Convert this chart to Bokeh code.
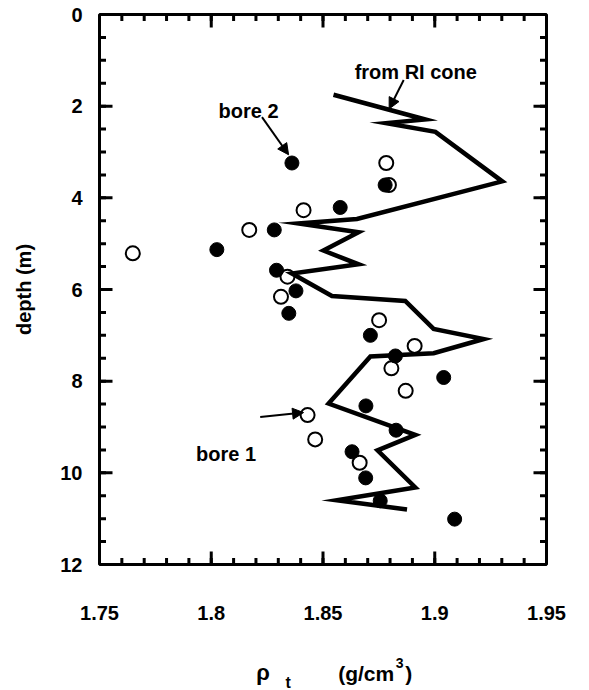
import math
from bokeh.plotting import figure
from bokeh.layouts import column
from bokeh.models import Range1d, FixedTicker, Label, Arrow, NormalHead
from bokeh.embed import file_html
from bokeh.resources import INLINE

# ---------------- data ----------------
bore1_density = [1.8783, 1.8795, 1.8413, 1.8170, 1.7649, 1.8341, 1.8312, 1.8751,
                 1.8910, 1.8806, 1.8870, 1.8431, 1.8465, 1.8664]
bore1_depth = [3.24, 3.72, 4.27, 4.70, 5.21, 5.72, 6.16, 6.67,
               7.23, 7.72, 8.21, 8.74, 9.27, 9.78]

bore2_density = [1.8361, 1.8778, 1.8577, 1.8282, 1.8025, 1.8292, 1.8379, 1.8347,
                 1.8712, 1.8824, 1.9040, 1.8692, 1.8827, 1.8630, 1.8691, 1.8756, 1.9089]
bore2_depth = [3.24, 3.72, 4.21, 4.70, 5.13, 5.58, 6.03, 6.52,
               7.00, 7.45, 7.92, 8.54, 9.07, 9.54, 10.11, 10.61, 11.01]

cone_density = [1.8547, 1.8958, 1.8783, 1.9003, 1.9302, 1.8652, 1.8390, 1.8659,
                1.8502, 1.8659, 1.8361, 1.8540, 1.8868, 1.8995, 1.9219, 1.8995,
                1.8712, 1.8525, 1.8913, 1.8744, 1.8913, 1.8562, 1.8876]
cone_depth = [1.75, 2.29, 2.37, 2.56, 3.64, 4.46, 4.56, 4.75,
              5.15, 5.45, 5.65, 6.14, 6.25, 6.86, 7.08, 7.39,
              7.46, 8.49, 9.17, 9.51, 10.32, 10.60, 10.80]

x_ticks = [1.75, 1.8, 1.85, 1.9, 1.95]
x_tick_labels = ["1.75", "1.8", "1.85", "1.9", "1.95"]
x_minor = [round(1.75 + 0.01 * i, 2) for i in range(21)]
y_ticks = [0, 2, 4, 6, 8, 10, 12]
y_minor = [0.5 * i for i in range(25)]

X0, X1 = 1.75, 1.95
Y_TOP, Y_BOT = 0, 12

FONT = "Liberation Sans"
WEIGHT = "bold"

p = figure(width=589, height=632, output_backend="svg", toolbar_location=None,
           x_range=Range1d(X0, X1), y_range=Range1d(Y_BOT, Y_TOP),
           min_border_left=99, min_border_right=43, min_border_top=14,
           min_border_bottom=68)
p.grid.visible = False
p.outline_line_color = "black"
p.outline_line_width = 3
p.background_fill_color = "white"
p.border_fill_color = "white"

for ax in (p.xaxis[0], p.yaxis[0]):
    ax.axis_line_color = None
    ax.major_tick_in = 0
    ax.major_tick_out = 0
    ax.minor_tick_in = 0
    ax.minor_tick_out = 0
    ax.major_tick_line_color = None
    ax.minor_tick_line_color = None
    ax.major_label_text_font = FONT
    ax.major_label_text_font_size = "20px"
    ax.major_label_text_font_style = WEIGHT
    ax.major_label_text_color = "black"
    ax.axis_label_text_font = FONT
    ax.axis_label_text_font_style = WEIGHT
    ax.axis_label_text_color = "black"

xa = p.xaxis[0]
xa.ticker = FixedTicker(ticks=x_ticks)
xa.major_label_overrides = {t: s for t, s in zip(x_ticks, x_tick_labels)}
xa.major_label_standoff = 41

ya = p.yaxis[0]
ya.ticker = FixedTicker(ticks=y_ticks)
ya.major_label_standoff = 17
ya.axis_label = "depth (m)"
ya.axis_label_text_font_size = "20px"
ya.axis_label_standoff = 22

# ---------------- inward tick marks on all four sides ----------------
# (dash markers centred on the frame edge; the half outside is clipped)
def ticks_x(vals, size):
    for yy in (Y_TOP, Y_BOT):
        p.scatter(vals, [yy] * len(vals), marker="dash", size=size,
                  angle=math.pi / 2, line_color="black", line_width=3)

def ticks_y(vals, size):
    for xx in (X0, X1):
        p.scatter([xx] * len(vals), vals, marker="dash", size=size,
                  line_color="black", line_width=3)

ticks_x(x_minor, 13)
ticks_x(x_ticks, 26)
ticks_y(y_minor, 13)
ticks_y(y_ticks, 26)

# ---------------- marks ----------------
p.scatter(bore1_density, bore1_depth, size=14, fill_color="white",
          line_color="black", line_width=2)
p.scatter(bore2_density, bore2_depth, size=14, fill_color="black",
          line_color="black", line_width=1)
p.line(cone_density, cone_depth, line_width=4.5, color="black", line_join="miter")

# ---------------- annotations ----------------
def lab(fig, x, y, text, size="20px", align="center"):
    fig.add_layout(Label(x=x, y=y, text=text, text_font=FONT, text_font_size=size,
                         text_font_style=WEIGHT, text_align=align,
                         text_baseline="alphabetic", text_color="black"))

lab(p, 1.8915, 1.25, "from RI cone")
lab(p, 1.8167, 2.10, "bore 2")
lab(p, 1.8066, 9.59, "bore 1")

for xs, ys, xe, ye in [(1.8861, 1.43, 1.8796, 2.06),
                       (1.8227, 2.24, 1.8346, 3.06),
                       (1.8219, 8.78, 1.8413, 8.685)]:
    p.add_layout(Arrow(x_start=xs, y_start=ys, x_end=xe, y_end=ye,
                       line_width=2, line_color="black",
                       end=NormalHead(size=11, fill_color="black",
                                      line_color="black", line_width=1)))

# ---------------- x-axis title strip (rho with subscript t, cm^3) ----------------
# shares the density axis of the main plot; its y is pixels from the strip top
q = figure(width=589, height=58, output_backend="svg", toolbar_location=None,
           x_range=p.x_range, y_range=Range1d(58, 0),
           x_axis_type=None, y_axis_type=None,
           min_border_left=99, min_border_right=43, min_border_top=0,
           min_border_bottom=0)
q.outline_line_color = None
q.grid.visible = False
q.background_fill_color = "white"
q.border_fill_color = "white"

lab(q, 1.8232, 40, "\u03c1", size="22px")
lab(q, 1.8344, 50, "t", size="16px")
lab(q, 1.8568, 41, "(g/cm", size="21px", align="left")
lab(q, 1.8826, 30, "3", size="14px", align="left")
lab(q, 1.8868, 41, ")", size="21px", align="left")

open("out.html", "w").write(file_html(column(p, q, spacing=0), INLINE))
